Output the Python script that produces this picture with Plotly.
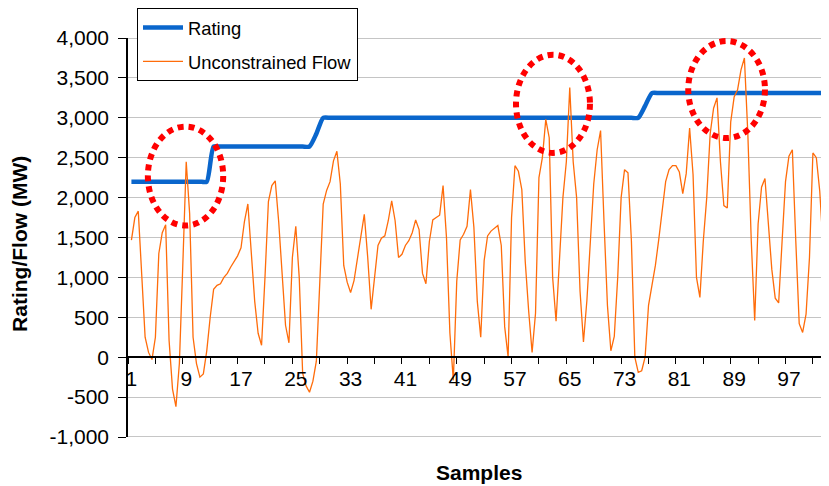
import plotly.graph_objects as go

# ---------------- data ----------------
# Rating, one value per sample (samples 1..103)
rating_mw = [
    2200, 2200, 2200, 2200, 2200, 2200, 2200, 2200, 2200, 2200, 2200, 2200,
    2640, 2640, 2640, 2640, 2640, 2640, 2640, 2640, 2640, 2640, 2640, 2640, 2640, 2640, 2640,
    2800,
    3000, 3000, 3000, 3000, 3000, 3000, 3000, 3000, 3000, 3000, 3000, 3000, 3000, 3000, 3000, 3000,
    3000, 3000, 3000, 3000, 3000, 3000, 3000, 3000, 3000, 3000, 3000, 3000, 3000, 3000, 3000, 3000,
    3000, 3000, 3000, 3000, 3000, 3000, 3000, 3000, 3000, 3000, 3000, 3000, 3000, 3000, 3000,
    3150,
    3310, 3310, 3310, 3310, 3310, 3310, 3310, 3310, 3310, 3310, 3310, 3310, 3310, 3310,
    3310, 3310, 3310, 3310, 3310, 3310, 3310, 3310, 3310, 3310, 3310, 3310, 3310,
]

# Unconstrained flow, read every half sample (samples 1.0, 1.5, ... 103.0)
flow_mw = [
    1467, 1750, 1830, 1080, 250, 60, -30, 250, 1300, 1560,        # 1.0 - 5.5
    1660, 210, -400, -620, -80, 1150, 2450, 1800, 250, -80,       # 6.0 - 10.5
    -250, -210, 80, 500, 850, 900, 920, 1000, 1050, 1130,         # 11.0 - 15.5
    1200, 1270, 1370, 1700, 1920, 1300, 700, 300, 150, 1000,      # 16.0 - 20.5
    1950, 2150, 2210, 1700, 1050, 400, 180, 1250, 1640, 1000,     # 21.0 - 25.5
    -200, -360, -440, -300, -50, 1040, 1920, 2090, 2200, 2460,    # 26.0 - 30.5
    2580, 2170, 1150, 940, 810, 960, 1240, 1500, 1790, 1250,      # 31.0 - 35.5
    600, 1000, 1400, 1490, 1520, 1710, 1960, 1710, 1250, 1290,    # 36.0 - 40.5
    1400, 1460, 1560, 1720, 1600, 1050, 920, 1450, 1720, 1750,    # 41.0 - 45.5
    1780, 2150, 1500, 300, -290, 950, 1470, 1540, 1640, 2100,     # 46.0 - 50.5
    1630, 700, 250, 1210, 1520, 1580, 1620, 1650, 1400, 380,      # 51.0 - 55.5
    0, 1750, 2400, 2330, 2100, 1200, 580, 60, 550, 2250,          # 56.0 - 60.5
    2500, 2980, 2750, 1000, 450, 1200, 2000, 2450, 3380, 2450,    # 61.0 - 65.5
    2000, 830, 190, 710, 1400, 2170, 2600, 2840, 1700, 650,       # 66.0 - 70.5
    80, 260, 1000, 2000, 2350, 2310, 1460, 0, -190, -170,         # 71.0 - 75.5
    0, 650, 900, 1150, 1480, 1830, 2200, 2350, 2400, 2400,        # 76.0 - 80.5
    2320, 2050, 2300, 2870, 2290, 1000, 750, 1460, 2000, 2800,    # 81.0 - 85.5
    3120, 3250, 2450, 1900, 1870, 2950, 3260, 3350, 3600, 3750,   # 86.0 - 90.5
    2800, 1460, 460, 1670, 2130, 2240, 1620, 1100, 740, 680,      # 91.0 - 95.5
    1450, 2200, 2520, 2600, 1460, 420, 310, 540, 1250, 2560,      # 96.0 - 100.5
    2500, 2080, 1380, 710, 660,                                   # 101.0 - 103.0
]

x_tick_values = [1, 9, 17, 25, 33, 41, 49, 57, 65, 73, 81, 89, 97]
x_tick_labels = ["1", "9", "17", "25", "33", "41", "49", "57", "65", "73", "81", "89", "97"]
y_tick_values = [-1000, -500, 0, 500, 1000, 1500, 2000, 2500, 3000, 3500, 4000]
y_tick_labels = ["-1,000", "-500", "0", "500", "1,000", "1,500", "2,000",
                 "2,500", "3,000", "3,500", "4,000"]

rating_x = [i + 1 for i in range(len(rating_mw))]
flow_x = [1 + 0.5 * i for i in range(len(flow_mw))]

FONT = "Liberation Sans, Arial, sans-serif"

# The page body has an 8px default margin, so the figure is sized 8px smaller
W, H = 821, 478

fig = go.Figure()
fig.add_trace(go.Scatter(
    x=rating_x, y=rating_mw, mode="lines", name="Rating",
    line=dict(color="#0A66CC", width=4.5, shape="spline", smoothing=0.6),
    legendgroup="a",
))
fig.add_trace(go.Scatter(
    x=flow_x, y=flow_mw, mode="lines", name="Unconstrained Flow",
    line=dict(color="#FF6C0A", width=1.3),
    legendgroup="b",
))

# highlight ellipses (red square-dotted)
ellipses = [
    (3.4, 14.4, 1650, 2890),
    (57.15, 67.95, 2560, 3790),
    (82.3, 93.5, 2746, 3962),
]
shapes = []
for x0, x1, y0, y1 in ellipses:
    shapes.append(dict(type="circle", xref="x", yref="y", x0=x0, x1=x1, y0=y0, y1=y1,
                       line=dict(color="#FF0000", width=6, dash="6px,5px"), layer="above"))
# plot-area top/bottom border
for yv in (4000, -1000):
    shapes.append(dict(type="line", xref="paper", yref="y", x0=0, x1=1, y0=yv, y1=yv,
                       line=dict(color="#8C8C8C", width=1), layer="below"))

fig.update_layout(
    width=W, height=H,
    margin=dict(l=120, r=0, t=30, b=49, autoexpand=False),
    paper_bgcolor="white", plot_bgcolor="white",
    font=dict(family=FONT, color="black"),
    shapes=shapes,
    showlegend=True,
    legend=dict(
        xref="container", yref="container",
        x=129 / W, y=1.0, xanchor="left", yanchor="top",
        bgcolor="white", bordercolor="black", borderwidth=1,
        font=dict(family=FONT, size=18.4, color="black"),
        tracegroupgap=7, itemwidth=40,
    ),
    annotations=[
        dict(text="Samples", xref="paper", yref="paper", x=0.5, y=-0.0902,
             xanchor="center", yanchor="middle", showarrow=False,
             font=dict(family=FONT, size=21, color="black", weight="bold")),
        dict(text="Rating/Flow (MW)", xref="paper", yref="paper", x=-0.154, y=0.484,
             xanchor="center", yanchor="middle", showarrow=False, textangle=-90,
             font=dict(family=FONT, size=21, color="black", weight="bold")),
    ],
)

fig.update_xaxes(
    range=[0.5, 102.85], automargin=False,
    anchor="free", position=0.2,
    showline=True, linecolor="black", linewidth=1.5,
    showgrid=False, zeroline=False,
    tickmode="array", tickvals=x_tick_values, ticktext=x_tick_labels,
    ticks="", ticklabelstandoff=3,
    tickfont=dict(family=FONT, size=21, color="black"),
    minor=dict(ticks="outside", tickmode="linear", tick0=0.5, dtick=4,
               ticklen=6, tickwidth=1, tickcolor="black", showgrid=False),
)
fig.update_yaxes(
    range=[-1000, 4000], automargin=False,
    tickmode="array", tickvals=y_tick_values, ticktext=y_tick_labels,
    ticks="outside", ticklen=8, tickwidth=1, tickcolor="black",
    ticklabelstandoff=5,
    showline=True, linecolor="black", linewidth=1.5,
    showgrid=True, gridcolor="#C4C4C4", gridwidth=1, zeroline=False,
    tickfont=dict(family=FONT, size=21, color="black"),
)

fig.write_html("out.html")
